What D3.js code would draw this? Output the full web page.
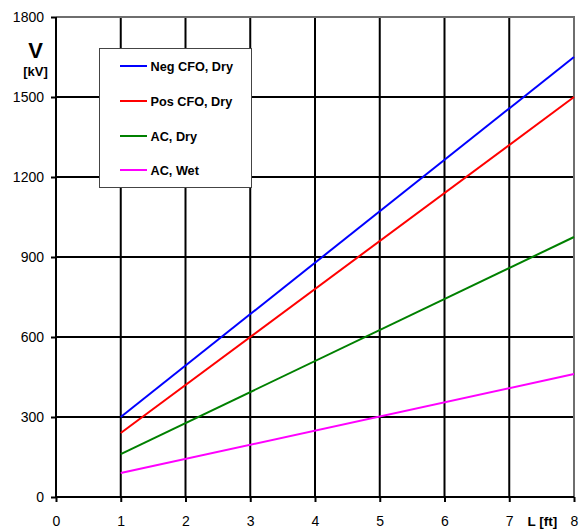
<!DOCTYPE html>
<html>
<head>
<meta charset="utf-8">
<script src="https://cdn.jsdelivr.net/npm/d3@7"></script>
<style>
  html, body { margin: 0; padding: 0; background: #fff; }
  svg { display: block; font-family: "Liberation Sans", Arial, sans-serif; }
</style>
</head>
<body>
<svg id="chart" width="579" height="531"></svg>
<script>
// Gap length L in feet (end points of each straight line)
const lengths = [1, 8];

// Flashover voltages in kV at each length
const negCfoDry = [300, 1650];
const posCfoDry = [240, 1500];
const acDry = [161, 975];
const acWet = [90, 461];

const seriesNames = ["Neg CFO, Dry", "Pos CFO, Dry", "AC, Dry", "AC, Wet"];
const seriesColors = ["#0000ff", "#ff0000", "#008000", "#ff00ff"];
const seriesValues = [negCfoDry, posCfoDry, acDry, acWet];

const xTicks = [0, 1, 2, 3, 4, 5, 6, 7, 8];
const yTicks = [0, 300, 600, 900, 1200, 1500, 1800];

const svg = d3.select("#chart");
const plotLeft = 56, plotRight = 574, plotTop = 17, plotBottom = 497;

const x = d3.scaleLinear().domain([0, 8]).range([plotLeft, plotRight]);
const y = d3.scaleLinear().domain([0, 1800]).range([plotBottom, plotTop]);

// Grid lines
const grid = svg.append("g");
grid.selectAll("line.v").data(xTicks.filter(t => t > 0 && t < 8)).join("line")
  .attr("class", "v")
  .attr("x1", d => x(d)).attr("x2", d => x(d))
  .attr("y1", plotTop).attr("y2", plotBottom)
  .attr("stroke", "#000").attr("stroke-width", 2);
grid.selectAll("line.h").data(yTicks.filter(t => t > 0 && t < 1800)).join("line")
  .attr("class", "h")
  .attr("x1", plotLeft).attr("x2", plotRight)
  .attr("y1", d => y(d)).attr("y2", d => y(d))
  .attr("stroke", "#000").attr("stroke-width", 2);

// Plot frame (top and right)
svg.append("path")
  .attr("d", `M${plotLeft},${plotTop}H${plotRight}V${plotBottom}`)
  .attr("fill", "none").attr("stroke", "#6e6e6e").attr("stroke-width", 2);

// Axes
const xAxis = d3.axisBottom(x).tickValues(xTicks).tickSize(5).tickPadding(14)
  .tickFormat(d3.format("d"));
const yAxis = d3.axisLeft(y).tickValues(yTicks).tickSize(5).tickPadding(7)
  .tickFormat(d3.format("d"));

const gx = svg.append("g").attr("transform", `translate(0,${plotBottom})`).call(xAxis);
const gy = svg.append("g").attr("transform", `translate(${plotLeft},0)`).call(yAxis);
[gx, gy].forEach(g => {
  g.select(".domain").attr("stroke", "#000").attr("stroke-width", 2);
  g.selectAll(".tick line").attr("stroke", "#000").attr("stroke-width", 2);
  g.selectAll(".tick text").attr("fill", "#000")
    .style("font-family", "'Liberation Sans', Arial, sans-serif").style("font-size", "14px");
});
gx.select(".domain").attr("d", `M${plotLeft},0H${plotRight}`);
gy.select(".domain").attr("d", `M0,${plotTop}V${plotBottom}`);

// Series lines
const line = d3.line().x(d => x(d[0])).y(d => y(d[1]));
svg.append("g").selectAll("path").data(seriesValues).join("path")
  .attr("d", vals => line(lengths.map((l, i) => [l, vals[i]])))
  .attr("fill", "none")
  .attr("stroke", (d, i) => seriesColors[i])
  .attr("stroke-width", 2);

// Axis titles
svg.append("text").attr("x", 35.5).attr("y", 58).attr("text-anchor", "middle")
  .style("font-size", "22px").style("font-weight", "bold").text("V");
svg.append("text").attr("x", 35.5).attr("y", 76).attr("text-anchor", "middle")
  .style("font-size", "13px").style("font-weight", "bold").text("[kV]");
svg.append("text").attr("x", 527.5).attr("y", 526)
  .style("font-size", "13.5px").style("font-weight", "bold").text("L [ft]");

// Legend
const legend = svg.append("g");
legend.append("rect").attr("x", 99.5).attr("y", 48.5).attr("width", 152).attr("height", 139)
  .attr("fill", "#fff").attr("stroke", "#444").attr("stroke-width", 1);
const rowY = [66, 101, 136, 170];
const rows = legend.selectAll("g.row").data(seriesNames).join("g")
  .attr("class", "row")
  .attr("transform", (d, i) => `translate(0,${rowY[i]})`);
rows.append("line").attr("x1", 120).attr("x2", 147).attr("y1", 0).attr("y2", 0)
  .attr("stroke", (d, i) => seriesColors[i]).attr("stroke-width", 2);
rows.append("text").attr("x", 150.5).attr("y", 4.5)
  .style("font-size", "12.7px").style("font-weight", "bold").text(d => d);
</script>
</body>
</html>
